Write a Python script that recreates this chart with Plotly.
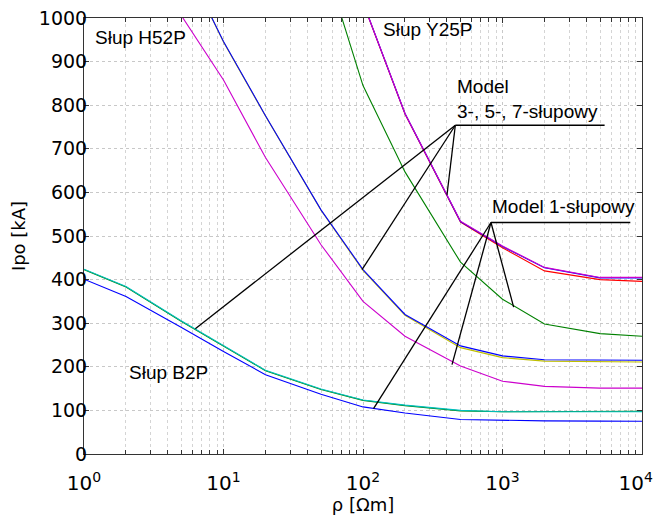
import numpy as np
import plotly.graph_objects as go

# ---------------- data (rho in Ohm*m, Ipo in kA) ----------------
rho = [1, 2, 5, 10, 20, 50, 100, 200, 500, 1000, 2000, 5000, 10000]

# Słup B2P
b2p_cyan_I = [424, 384, 305, 248, 192, 149, 124, 112, 100, 97, 97, 97, 97]
b2p_green_I = [423, 383, 304, 247, 191, 148, 123, 111, 99, 97, 97, 98, 98]
b2p_blue_I = [401, 361, 290, 235, 182, 137, 108, 94, 79, 77, 76, 75.5, 75]

# Słup H52P (values above 1000 are clipped by the axis range)
h52_rho = [5, 10, 20, 50, 100, 200, 500, 1000, 2000, 5000, 10000]
h52_blue_I = [1142, 946, 776, 560, 423, 320, 248, 225, 216, 215, 215]
h52_yellow_I = [1142, 945, 775, 559, 421, 318, 244, 221, 213, 211, 211]
h52_mag_rho = [5, 10, 20, 50, 100, 200, 500, 1000, 2000, 5000, 10000]
h52_mag_I = [1005, 858, 680, 480, 350, 270, 202, 167, 155, 151, 151]

# Słup Y25P
y25_rho = [100, 200, 500, 1000, 2000, 5000, 10000]
y25_red_I = [1035, 780, 532, 473, 420, 400, 396]
y25_mag_I = [1036, 781, 534, 477, 428, 405, 405]
y25_blue_I = [1036, 781, 533, 476, 427, 404, 404]
y25_green_rho = [50, 100, 200, 500, 1000, 2000, 5000, 10000]
y25_green_I = [1153, 845, 647, 440, 355, 298, 276, 270]

# leader lines: apex, curve end points, shelf end
lead357_apex = (459, 754)
lead357_ends_rho = [6.28, 98.4, 400]
lead357_ends_I = [287.5, 422.7, 594.5]
lead357_shelf_rho = 5395
lead1_apex = (827, 531)
lead1_ends_rho = [119, 434.5, 1202]
lead1_ends_I = [104, 205, 337]
lead1_shelf_rho = 8245

# tick labels
x_tickvals = [1, 10, 100, 1000, 10000]
x_ticktext = ["10<sup>0</sup>", "10<sup>1</sup>", "10<sup>2</sup>", "10<sup>3</sup>",
              "10<sup>4</sup>\u00a0\u00a0"]
y_tickvals = [0, 100, 200, 300, 400, 500, 600, 700, 800, 900, 1000]

# text labels (rho, I, text)
labels = [
    (1.166, 955, "Słup H52P"),
    (135, 974, "Słup Y25P"),
    (2.04, 188, "Słup B2P"),
    (459, 815, "Model<br>3-, 5-, 7-słupowy"),
    (818, 567, "Model 1-słupowy"),
]

BLUE = "#0000ff"
GREEN = "#008000"
RED = "#ff0000"
CYAN = "#00bfbf"
MAG = "#cc00cc"
YEL = "#bfbf00"

fig = go.Figure()


def add(x, y, color, w=1.1):
    fig.add_trace(go.Scatter(x=x, y=y, mode="lines", showlegend=False, hoverinfo="skip",
                             line=dict(color=color, width=w)))


add(rho, b2p_green_I, GREEN)
add(rho, b2p_cyan_I, CYAN)
add(rho, b2p_blue_I, BLUE)
add(h52_rho, h52_yellow_I, YEL)
add(h52_rho, h52_blue_I, BLUE)
add(h52_mag_rho, h52_mag_I, MAG)
add(y25_rho, y25_red_I, RED)
add(y25_rho, y25_blue_I, BLUE)
add(y25_rho, y25_mag_I, MAG)
add(y25_green_rho, y25_green_I, GREEN)


def leaders(apex, ends_rho, ends_I, shelf_rho):
    xs, ys = [], []
    for r, i in zip(ends_rho, ends_I):
        xs += [r, apex[0], None]
        ys += [i, apex[1], None]
    xs += [apex[0], shelf_rho]
    ys += [apex[1], apex[1]]
    fig.add_trace(go.Scatter(x=xs, y=ys, mode="lines", showlegend=False, hoverinfo="skip",
                             line=dict(color="black", width=1.3)))


leaders(lead357_apex, lead357_ends_rho, lead357_ends_I, lead357_shelf_rho)
leaders(lead1_apex, lead1_ends_rho, lead1_ends_I, lead1_shelf_rho)

for r, i, t in labels:
    fig.add_annotation(x=np.log10(r), y=i, xref="x", yref="y", text=t, showarrow=False,
                       xanchor="left", yanchor="middle", align="left",
                       font=dict(family="Liberation Sans, Arial", size=19, color="black"))

minor_vals = [k * 10 ** d for d in range(4) for k in range(2, 10)]

fig.update_layout(
    width=656, height=515,
    margin=dict(l=84, r=14, t=18, b=61),
    paper_bgcolor="white", plot_bgcolor="white",
    font=dict(family="DejaVu Sans", size=19, color="black"),
    xaxis=dict(
        type="log", range=[0, 4], automargin=False,
        tickvals=x_tickvals, ticktext=x_ticktext,
        tickfont=dict(size=20), ticklabeloverflow="allow", ticklabelstandoff=11,
        ticks="inside", ticklen=5, tickcolor="#333333",
        showline=True, linecolor="#333333", linewidth=1, mirror="allticks",
        showgrid=True, gridcolor="#c8c8c8", griddash="dot", gridwidth=1,
        minor=dict(tickvals=minor_vals, ticks="inside", ticklen=4, tickcolor="#333333",
                   showgrid=True, gridcolor="#d4d4d4", griddash="dot", gridwidth=1),
        zeroline=False,
        title=dict(text="ρ [Ωm]", font=dict(size=18), standoff=0),
    ),
    yaxis=dict(
        range=[0, 1000], tickvals=y_tickvals, automargin=False,
        ticklabelstandoff=-8,
        ticks="inside", ticklen=5, tickcolor="#333333",
        showline=True, linecolor="#333333", linewidth=1, mirror="allticks",
        showgrid=True, gridcolor="#c8c8c8", griddash="dot", gridwidth=1,
        zeroline=False,
        title=dict(text="Ipo [kA]", font=dict(size=18), standoff=8),
    ),
)

fig.write_html("out.html")
